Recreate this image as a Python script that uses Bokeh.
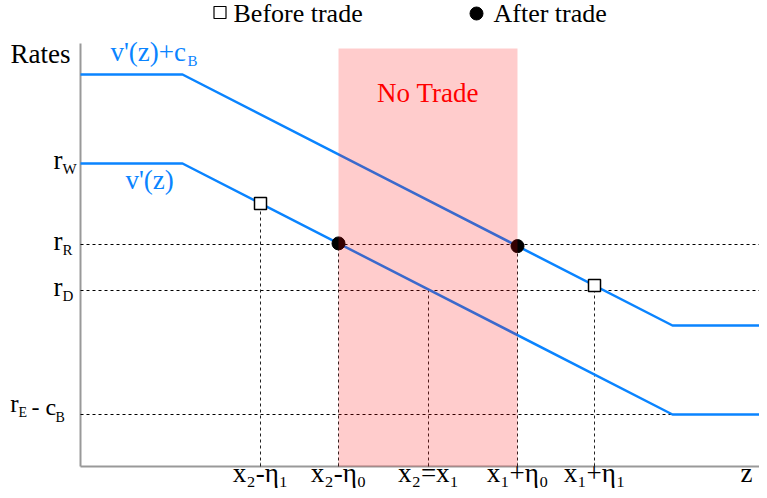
import numpy as np
from bokeh.plotting import figure
from bokeh.models import Range1d
from bokeh.core.properties import value
from bokeh.embed import file_html
from bokeh.resources import INLINE

# ---------------- data ----------------
z_knots = [0, 102, 592, 687]          # z where v'(z) changes slope (and the ends)
v_knots = [303, 303, 52, 52]          # v'(z) at those z
c_B = 89                              # shift of the upper curve

rate_subs = ["W", "R", "D"]           # r_W, r_R, r_D
rate_values = [303, 222, 176]
rate_E_minus_cB = 52

z_tick_values = [180, 258, 348, 437, 514]
z_tick_labels = ["x\u2082-\u03b7\u2081", "x\u2082-\u03b7\u2080", "x\u2082=x\u2081",
                 "x\u2081+\u03b7\u2080", "x\u2081+\u03b7\u2081"]
z_tick_curve = ["v", "v", "v", "v+c", "v+c"]

before_z = [180, 514]
before_curve = ["v", "v+c"]
after_z = [258, 437]
after_curve = ["v", "v+c"]
no_trade_z = [258, 437]

legend_labels = ["Before trade", "After trade"]

# ---------------- helpers ----------------
def v(z):
    return np.interp(z, z_knots, v_knots)

def curve(z, which):
    return float(v(z) + (c_B if which == "v+c" else 0))

FONT = value("'Liberation Serif', 'Times New Roman', serif")
BLUE = "#0a84ff"
GRAY = "#999999"
z_max = z_knots[-1]
y_top_axis = 423
shade_top = 418

p = figure(width=759, height=490, x_range=Range1d(-80, 679), y_range=Range1d(-24, 466),
           x_axis_type=None, y_axis_type=None, output_backend="svg",
           toolbar_location=None, min_border=0, outline_line_color=None)
p.background_fill_color = "white"
p.border_fill_color = "white"


def txt(xs, base_ys, texts, size, color="black", align="left"):
    # base_ys: wanted alphabetic baselines (1 data unit == 1 px); shift for renderer offset
    ys = [b + 0.37 * size for b in base_ys]
    p.text(x=xs, y=ys, text=texts, text_font=FONT, text_font_size=f"{size}px",
           text_color=color, text_align=align, text_baseline="alphabetic")


# axes
p.segment(x0=[0, 0], y0=[0, 0], x1=[0, z_max], y1=[y_top_axis, 0], line_color=GRAY, line_width=2)
p.segment(x0=z_tick_values, y0=[0] * 5, x1=z_tick_values, y1=[4] * 5, line_color=GRAY, line_width=1)

# dashed guides
hx1 = [z_max, z_max, z_knots[2]]
hy = [rate_values[1], rate_values[2], rate_E_minus_cB]
p.segment(x0=[0] * 3, y0=hy, x1=hx1, y1=hy, line_color="black", line_width=1, line_dash="3 3")
vtop = [curve(z, c) for z, c in zip(z_tick_values, z_tick_curve)]
p.segment(x0=z_tick_values, y0=[0] * 5, x1=z_tick_values, y1=vtop, line_color="#222222",
          line_width=1, line_dash="3 3")

# curves
p.line(x=z_knots, y=v_knots, line_color=BLUE, line_width=2.5)
p.line(x=z_knots, y=[y + c_B for y in v_knots], line_color=BLUE, line_width=2.5)

# points
p.scatter(x=before_z, y=[curve(z, c) for z, c in zip(before_z, before_curve)], marker="square",
          size=12, fill_color="white", line_color="black", line_width=1.5)
p.scatter(x=after_z, y=[curve(z, c) for z, c in zip(after_z, after_curve)], marker="circle",
          size=13, fill_color="black", line_color="black")

# no-trade shade (drawn over)
p.quad(left=[no_trade_z[0]], right=[no_trade_z[1]], bottom=[0], top=[shade_top],
       fill_color="red", fill_alpha=0.2, line_color=None)
txt([(no_trade_z[0] + no_trade_z[1]) / 2], [364], ["No Trade"], 27, "red", "center")

# curve labels
txt([30], [405], ["v'(z)+c"], 27, BLUE)
txt([107], [400], ["B"], 15, BLUE)
txt([45], [277], ["v'(z)"], 27, BLUE)

# y labels
txt([-10], [403], ["Rates"], 27, align="right")
txt([-18] * 3, [r - 6 for r in rate_values], ["r"] * 3, 27, align="right")
txt([-18] * 3, [r - 11 for r in rate_values], rate_subs, 15)
txt([-62], [rate_E_minus_cB + 2], ["r"], 25, align="right")
txt([-62], [rate_E_minus_cB - 3], ["E"], 14)
txt([-49], [rate_E_minus_cB - 1], ["- c"], 24)
txt([-25], [rate_E_minus_cB - 8], ["B"], 14)

# x labels
txt(z_tick_values, [-16] * 5, z_tick_labels, 27, align="center")
txt([666], [-16], ["z"], 27, align="center")

# legend
p.scatter(x=[139.5], y=[454], marker="square", size=12, fill_color="white",
          line_color="black", line_width=1.2)
p.scatter(x=[396], y=[453], marker="circle", size=13, fill_color="black", line_color="black")
txt([153, 413], [443, 443], legend_labels, 26)

open("out.html", "w").write(file_html(p, INLINE))
